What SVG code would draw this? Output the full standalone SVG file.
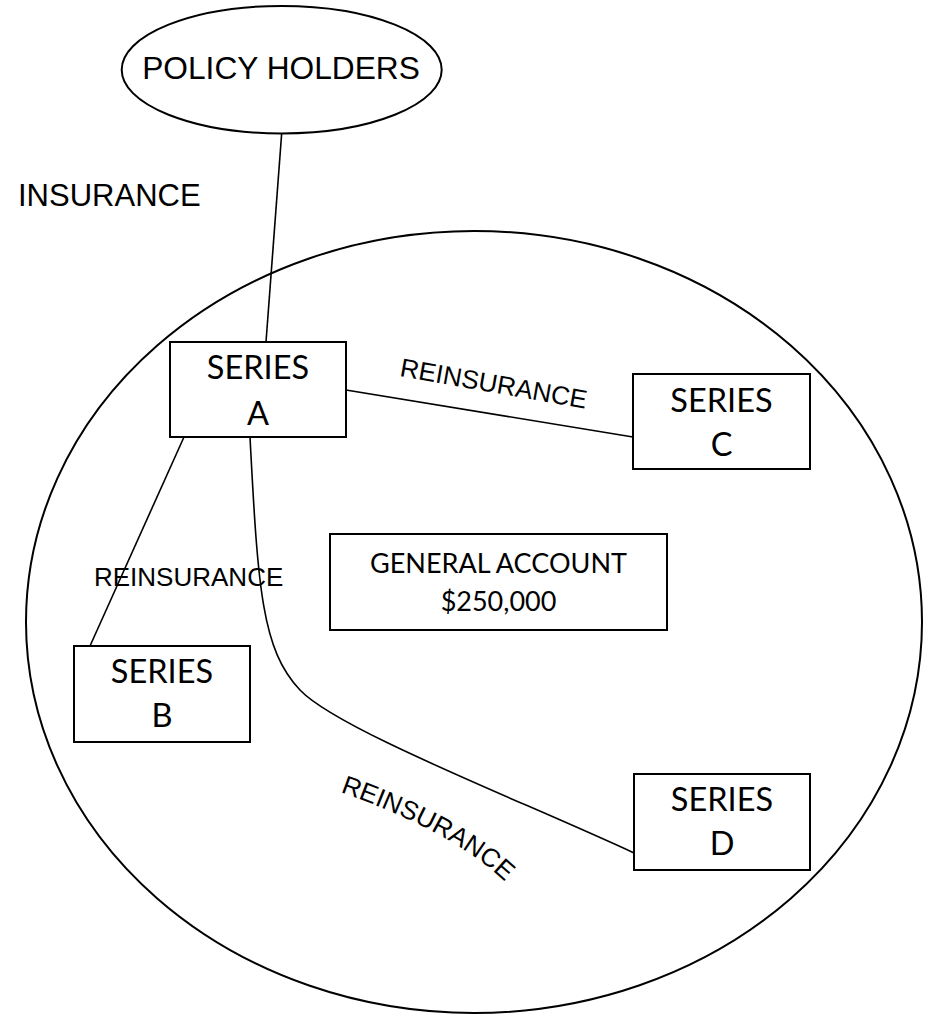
<svg xmlns="http://www.w3.org/2000/svg" width="928" height="1017" viewBox="0 0 928 1017">
<style>
.box{fill:#fff;stroke:#000;stroke-width:2}
.conn{fill:none;stroke:#000;stroke-width:1.6}
.lbl{font-family:"Liberation Sans",Arial,sans-serif;fill:#000}
.nt{font-family:Lato,"Liberation Sans",sans-serif;fill:#000;text-anchor:middle}
</style>
<defs>
<path id="arcD" d="M340,792 Q448,830 500,877 L540,913"/>
</defs>
<rect width="928" height="1017" fill="#fff"/>
<g id="world">
<ellipse cx="474" cy="622" rx="448" ry="391" fill="none" stroke="#000" stroke-width="2"/>
</g>
<g id="connectors">
<line class="conn" x1="281.7" y1="133" x2="266" y2="342"/>
<line class="conn" x1="346" y1="390" x2="633" y2="437"/>
<line class="conn" x1="184" y1="437" x2="90" y2="646"/>
<path class="conn" d="M250,437 C258,590 262,650 300,690 S520,800 634,853"/>
</g>
<g id="labels">
<text class="lbl" x="18" y="206" font-size="31">INSURANCE</text>
<text class="lbl" x="94" y="586" font-size="26">REINSURANCE</text>
<text class="lbl" font-size="26" transform="translate(399,376) rotate(10)">REINSURANCE</text>
<text class="lbl" font-size="26"><textPath href="#arcD">REINSURANCE</textPath></text>
</g>
<g id="policy-holders">
<ellipse cx="281.7" cy="69.7" rx="160" ry="63.7" fill="#fff" stroke="#000" stroke-width="2"/>
<text class="lbl" x="281" y="79.3" font-size="31.7" text-anchor="middle">POLICY HOLDERS</text>
</g>
<g id="series-a">
<rect class="box" x="170" y="342" width="176" height="95"/>
<text class="nt" x="258" y="379" font-size="32.5">SERIES</text>
<text class="nt" x="258" y="425" font-size="32.5">A</text>
</g>
<g id="series-c">
<rect class="box" x="633" y="374" width="177" height="95"/>
<text class="nt" x="721.5" y="412" font-size="32.5">SERIES</text>
<text class="nt" x="721.5" y="456" font-size="32.5">C</text>
</g>
<g id="general-account">
<rect class="box" x="330" y="534" width="337" height="96"/>
<text class="nt" x="498.5" y="573" font-size="27">GENERAL ACCOUNT</text>
<text class="nt" x="498.5" y="611" font-size="27">$250,000</text>
</g>
<g id="series-b">
<rect class="box" x="74" y="646" width="176" height="96"/>
<text class="nt" x="162" y="683" font-size="32.5">SERIES</text>
<text class="nt" x="162" y="727" font-size="32.5">B</text>
</g>
<g id="series-d">
<rect class="box" x="634" y="774" width="176" height="96"/>
<text class="nt" x="722" y="811" font-size="32.5">SERIES</text>
<text class="nt" x="722" y="855" font-size="32.5">D</text>
</g>
</svg>
